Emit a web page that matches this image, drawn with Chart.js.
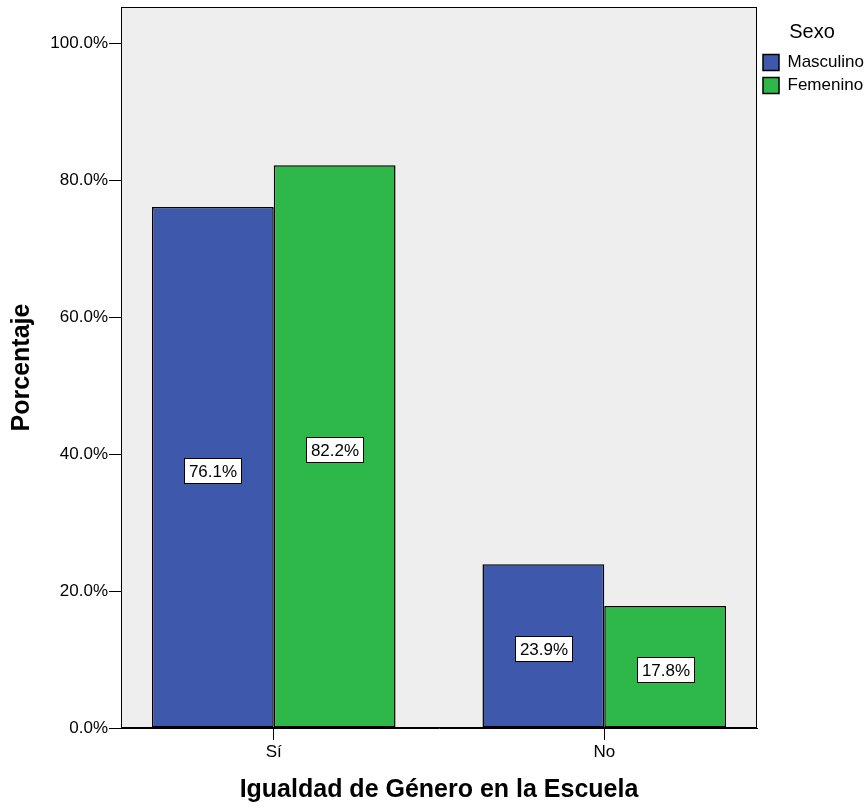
<!DOCTYPE html>
<html>
<head>
<meta charset="utf-8">
<script src="https://cdn.jsdelivr.net/npm/chart.js@4/dist/chart.umd.min.js"></script>
<style>
  html, body { margin: 0; padding: 0; background: #ffffff; }
  #wrap { width: 867px; height: 809px; }
</style>
</head>
<body>
<div id="wrap"><canvas id="chart" width="867" height="809"></canvas></div>
<script>
// Categories and series (percent within each sex)
const categories = ['Sí', 'No'];
const seriesNames = ['Masculino', 'Femenino'];
const masculino = [76.1, 23.9];
const femenino = [82.2, 17.8];
const yTickValues = [0, 20, 40, 60, 80, 100];
const xTickValues = [0, 1];

const FONT = "'Liberation Sans', Arial, Helvetica, sans-serif";
Chart.defaults.font.family = FONT;
Chart.defaults.color = '#000000';

const toPoints = arr => arr.map((v, i) => ({ x: i, y: v }));

// Plot background and frame around the chart area
const framePlugin = {
  id: 'frame',
  beforeDraw(chart) {
    const { ctx, chartArea: a } = chart;
    ctx.save();
    ctx.fillStyle = '#eeeeee';
    ctx.fillRect(a.left, a.top, a.right - a.left, a.bottom - a.top);
    ctx.restore();
  },
  afterDraw(chart) {
    const { ctx, chartArea: a } = chart;
    ctx.save();
    ctx.strokeStyle = '#000000';
    ctx.lineWidth = 1;
    ctx.strokeRect(Math.round(a.left) + 0.5, Math.round(a.top) + 0.5,
                   Math.round(a.right - a.left) - 1, Math.round(a.bottom - a.top) - 1);
    ctx.restore();
  }
};

// Boxed percentage labels in the middle of each bar
const barLabelPlugin = {
  id: 'barLabels',
  afterDatasetsDraw(chart) {
    const ctx = chart.ctx;
    ctx.save();
    ctx.font = '17px ' + FONT;
    ctx.textAlign = 'center';
    ctx.textBaseline = 'middle';
    chart.data.datasets.forEach((ds, di) => {
      const meta = chart.getDatasetMeta(di);
      meta.data.forEach((bar, i) => {
        const text = ds.data[i].y.toFixed(1) + '%';
        const w = Math.round(ctx.measureText(text).width + 9);
        const h = 25;
        const cx = bar.x;
        const cy = (bar.y + bar.base) / 2 + 3;
        const x0 = Math.round(cx - w / 2) + 0.5;
        const y0 = Math.round(cy - h / 2) + 0.5;
        ctx.fillStyle = '#ffffff';
        ctx.fillRect(x0, y0, w, h);
        ctx.strokeStyle = '#000000';
        ctx.lineWidth = 1;
        ctx.strokeRect(x0, y0, w, h);
        ctx.fillStyle = '#000000';
        ctx.fillText(text, x0 + w / 2, y0 + h / 2 + 1);
      });
    });
    ctx.restore();
  }
};

// Fixed legend column width on the right side
const LEGEND_WIDTH = 110;
const legendWidthPlugin = {
  id: 'legendWidth',
  beforeLayout(chart) {
    const lg = chart.legend;
    if (lg && !lg._fixedWidth) {
      const fit = lg.fit.bind(lg);
      lg.fit = function () { fit(); this.width = LEGEND_WIDTH; };
      lg._fixedWidth = true;
    }
  }
};

const noEdgePadding = scale => {
  scale.paddingTop = 0;
  scale.paddingBottom = 0;
  scale.paddingLeft = 0;
  scale.paddingRight = 0;
};

new Chart(document.getElementById('chart'), {
  type: 'bar',
  data: {
    datasets: [
      {
        label: seriesNames[0],
        data: toPoints(masculino),
        backgroundColor: '#3e58ac',
        borderColor: '#000000',
        borderWidth: 1.5,
        borderSkipped: false,
        barPercentage: 1.0,
        categoryPercentage: 0.737
      },
      {
        label: seriesNames[1],
        data: toPoints(femenino),
        backgroundColor: '#2eb84a',
        borderColor: '#000000',
        borderWidth: 1.5,
        borderSkipped: false,
        barPercentage: 1.0,
        categoryPercentage: 0.737
      }
    ]
  },
  options: {
    responsive: false,
    animation: false,
    layout: { padding: { top: 7, left: 0, right: 0, bottom: 0 } },
    plugins: {
      tooltip: { enabled: false },
      legend: {
        position: 'right',
        align: 'start',
        title: {
          display: true,
          text: 'Sexo',
          color: '#000000',
          font: { size: 20 },
          padding: { top: 15, bottom: 2 }
        },
        labels: {
          boxWidth: 16,
          boxHeight: 16,
          padding: 6,
          color: '#000000',
          font: { size: 17 }
        }
      }
    },
    scales: {
      x: {
        type: 'linear',
        min: -0.4622,
        max: 1.4622,
        offset: false,
        afterBuildTicks(scale) { scale.ticks = xTickValues.map(v => ({ value: v })); },
        afterFit(scale) { scale.height = 81; noEdgePadding(scale); },
        ticks: {
          padding: 2,
          font: { size: 17 },
          color: '#000000',
          callback: v => categories[v]
        },
        grid: {
          display: true,
          offset: false,
          drawOnChartArea: false,
          drawTicks: true,
          tickLength: 12,
          color: '#000000',
          lineWidth: 1
        },
        border: { display: true, color: '#000000', width: 1 },
        title: {
          display: true,
          text: 'Igualdad de Género en la Escuela',
          color: '#000000',
          font: { size: 25, weight: 'bold' },
          padding: { top: 0, bottom: 4 }
        }
      },
      y: {
        min: 0,
        max: 105.3,
        afterBuildTicks(scale) { scale.ticks = yTickValues.map(v => ({ value: v })); },
        afterFit(scale) { scale.width = 121; noEdgePadding(scale); },
        ticks: {
          padding: 1,
          font: { size: 17 },
          color: '#000000',
          callback: v => v.toFixed(1) + '%'
        },
        grid: {
          display: true,
          drawOnChartArea: false,
          drawTicks: true,
          tickLength: 12,
          color: '#000000',
          lineWidth: 1
        },
        border: { display: true, color: '#000000', width: 1 },
        title: {
          display: true,
          text: 'Porcentaje',
          color: '#000000',
          font: { size: 25, weight: 'bold' },
          padding: { top: 7, bottom: 0 }
        }
      }
    }
  },
  plugins: [framePlugin, barLabelPlugin, legendWidthPlugin]
});
</script>
</body>
</html>
